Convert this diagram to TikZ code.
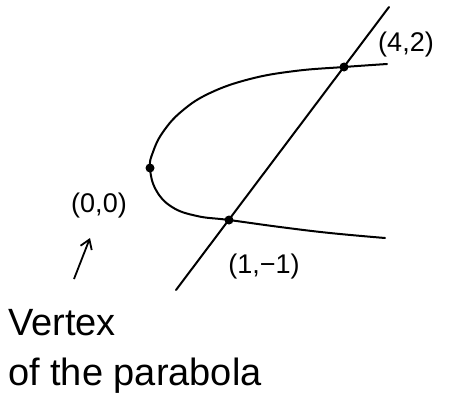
\documentclass[tikz,border=0pt]{standalone}
\usepackage{fontspec}
\setmainfont{Liberation Sans}
\usetikzlibrary{arrows.meta}
\begin{document}
\begin{tikzpicture}[x=1pt,y=-1pt,
  curve/.style={line width=2pt,line cap=round,line join=round},
  pt/.style={circle,fill=black,inner sep=0pt,minimum size=9pt},
  lbl/.style={font=\fontsize{27}{29}\selectfont,inner sep=0pt},
  big/.style={font=\fontsize{38}{40}\selectfont,inner sep=0pt,anchor=base west}]
\useasboundingbox (0,0) rectangle (452,404);
\fill[white] (0,0) rectangle (452,404);
% parabola
\draw[curve] plot[smooth,tension=0.7] coordinates {(387,64) (344,67) (295,71) (250,79) (210,93) (182,111) (163,132) (153,152) (150,168) (156,190) (172,207) (197,216) (229,220) (280,227) (330,233) (385,238)};
% line
\coordinate (ltop) at (389,7);
\coordinate (lbot) at (176,290);
\draw[curve] (lbot) -- (ltop);
% points
\node[pt] (v) at (150,168) {};
\node[pt] (p1) at (229,220) {};
\node[pt] (p4) at (344,67) {};
% labels
\node[lbl] (l0) at (99,206) {(0,0)};
\node[lbl] (l1) at (264,267) {(1,−1)};
\node[lbl] (l4) at (406,45) {(4,2)};
% arrow
\coordinate (a0) at (74,279);
\coordinate (a1) at (90,238);
\draw[line width=1.8pt,-{Straight Barb[length=9pt,width=12pt]}] (a0) -- (a1);
\node[big] (t1) at (8,335) {Vertex};
\node[big] (t2) at (8,385) {of the parabola};
\end{tikzpicture}
\end{document}
